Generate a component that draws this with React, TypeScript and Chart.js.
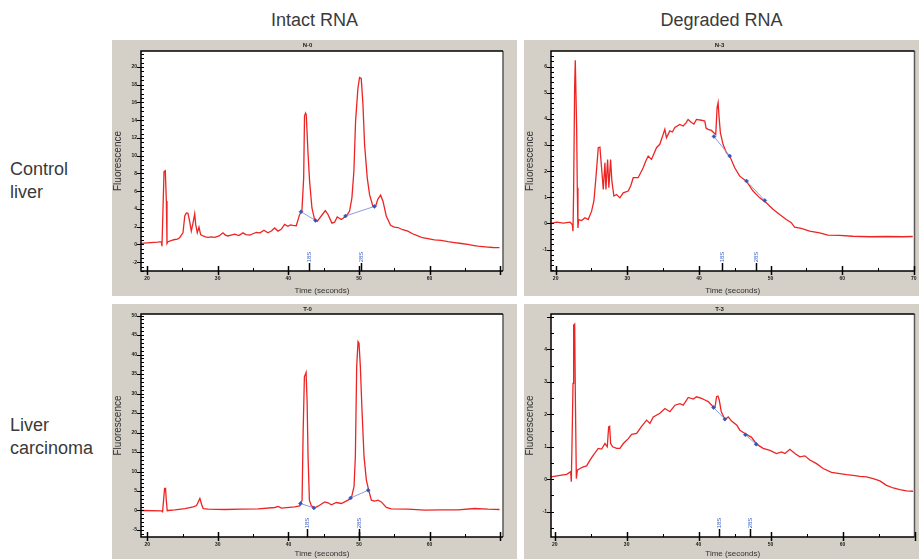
import React, { useEffect, useRef } from "react";
import { Chart, registerables } from "chart.js";

Chart.register(...registerables);

const FONT = "'Liberation Sans', Arial, Helvetica, sans-serif";
Chart.defaults.font.family = FONT;

// ---- text ----
const columnTitles = ["Intact RNA", "Degraded RNA"];
const rowTitleControl = ["Control", "liver"];
const rowTitleCarcinoma = ["Liver", "carcinoma"];
const panelTitles = ["N-0", "N-3", "T-0", "T-3"];
const markerNames = ["18S", "28S"];
const xAxisTitle = "Time (seconds)";
const yAxisTitle = "Fluorescence";

// ---- N-0 (control liver, intact) ----
const n0Time = [
  19.1, 20.5, 21.5, 22.03, 22.12, 22.26, 22.41, 22.59, 22.74, 22.83,
  22.97, 23.5, 23.92, 24.3, 24.62, 25.09, 25.35, 25.57, 25.8, 26.04,
  26.27, 26.51, 26.75, 26.89, 27.12, 27.36, 27.59, 27.92, 28.3, 28.63,
  29.1, 29.58, 30.2, 30.75, 31.1, 31.46, 31.9, 32.41, 33.0, 33.58,
  34.0, 34.53, 35.0, 35.47, 36.0, 36.56, 37.12, 37.6, 38.07, 38.54,
  39.0, 39.48, 39.95, 40.3, 40.66, 41.13, 41.6, 41.93, 42.18, 42.3,
  42.45, 42.55, 42.78, 43.02, 43.35, 43.73, 44.1, 44.67, 45.24, 45.61,
  46.18, 46.56, 46.93, 47.5, 48.21, 48.68, 49.01, 49.29, 49.53, 49.86,
  50.09, 50.33, 50.57, 50.8, 51.18, 51.51, 51.98, 52.36, 52.69, 53.07,
  53.4, 53.87, 54.48, 55.0, 55.52, 56.2, 56.93, 57.6, 58.35, 59.0,
  59.76, 60.7, 61.65, 62.6, 63.54, 64.5, 65.42, 66.1, 66.84, 67.5,
  68.25, 69.0, 69.9,
];
const n0Fluor = [
  0.1, 0.2, 0.25, 0.3, -0.2, 3.9, 8.2, 8.3, 4.9, 0.1,
  0.3, 0.45, 0.55, 0.6, 0.75, 1.3, 3.2, 3.55, 3.5, 2.6,
  1.5, 2.4, 3.45, 2.25, 1.3, 1.95, 1.1, 0.95, 0.85, 0.8,
  0.85, 0.8, 0.95, 1.3, 1.05, 0.95, 1.05, 1.15, 1.0, 1.3,
  1.1, 1.05, 1.2, 1.35, 1.3, 1.6, 1.3, 1.5, 1.85, 1.5,
  1.7, 2.25, 2.05, 2.2, 2.15, 2.1, 3.35, 3.75, 7.5, 14.5,
  14.8, 14.6, 10.5, 7.1, 4.1, 2.8, 2.6, 3.2, 3.8, 3.4,
  2.4, 2.5, 3.1, 2.8, 3.2, 3.75, 5.25, 8.25, 13.9, 17.6,
  18.8, 18.7, 15.8, 11.3, 7.5, 5.6, 4.3, 4.3, 5.1, 5.55,
  4.9, 3.2, 2.15, 1.95, 1.9, 1.65, 1.5, 1.2, 0.95, 0.75,
  0.65, 0.5, 0.45, 0.3, 0.2, 0.1, 0.0, -0.1, -0.2, -0.25,
  -0.3, -0.35, -0.37,
];
const n0BaseTime = [41.8, 43.85, 46.0, 48.1, 52.2];
const n0BaseFluor = [3.68, 2.7, null, 3.2, 4.28];
const n0Markers = [42.9, 50.3];
const n0YTicks = [-2, 0, 2, 4, 6, 8, 10, 12, 14, 16, 18, 20];
const n0XTicks = [20, 30, 40, 50, 60];

// ---- N-3 (control liver, degraded) ----
const n3Time = [
  19.35, 20.14, 21.07, 22.0, 22.32, 22.42, 22.51, 22.65, 22.74, 22.83,
  22.93, 23.02, 23.11, 23.21, 23.62, 24.09, 24.55, 25.02, 25.34, 25.62,
  25.95, 26.18, 26.41, 26.65, 26.88, 27.02, 27.25, 27.43, 27.67, 27.85,
  28.13, 28.5, 28.97, 29.43, 30.13, 30.5, 30.83, 31.52, 32.22, 32.6,
  32.92, 33.38, 34.08, 34.54, 35.01, 35.24, 35.47, 35.94, 36.3, 36.64,
  37.33, 37.8, 38.2, 38.49, 38.96, 39.3, 39.66, 40.35, 40.82, 41.0,
  41.28, 41.75, 42.07, 42.35, 42.54, 42.68, 42.82, 43.0, 43.37, 43.84,
  44.3, 45.0, 45.7, 46.63, 47.56, 48.49, 49.41, 50.34, 51.27, 52.2,
  52.9, 53.36, 54.29, 55.46, 56.85, 58.01, 59.64, 61.5, 63.82, 66.14,
  68.47, 69.86,
];
const n3Fluor = [
  0.0, 0.05, 0.01, 0.05, -0.04, -0.3, 1.24, 5.2, 6.25, 6.25,
  3.67, 1.37, -0.17, 0.15, 0.11, 0.22, 0.15, 0.47, 0.86, 1.75,
  2.9, 2.92, 2.13, 1.3, 2.32, 1.3, 2.45, 1.37, 2.45, 1.62,
  1.05, 1.11, 0.98, 1.17, 1.24, 1.45, 1.75, 1.75, 2.13, 2.4,
  2.58, 2.45, 2.9, 3.03, 3.41, 3.6, 3.28, 3.54, 3.5, 3.67,
  3.79, 3.73, 3.85, 3.98, 3.86, 3.8, 3.98, 3.95, 3.92, 3.65,
  3.6, 3.56, 3.47, 3.41, 4.43, 4.62, 4.05, 3.47, 3.03, 2.71,
  2.58, 2.13, 1.81, 1.62, 1.24, 0.98, 0.79, 0.54, 0.34, 0.15,
  0.03, -0.14, -0.19, -0.29, -0.36, -0.45, -0.46, -0.49, -0.51, -0.5,
  -0.51, -0.5,
];
const n3BaseTime = [42.1, 44.3, 45.5, 46.65, 49.2];
const n3BaseFluor = [3.33, 2.58, null, 1.62, 0.88];
const n3Markers = [43.2, 48.0];
const n3YTicks = [-1, 0, 1, 2, 3, 4, 5, 6];
const n3XTicks = [20, 30, 40, 50, 60, 70];

// ---- T-0 (liver carcinoma, intact) ----
const t0Time = [
  19.2, 22.03, 22.17, 22.31, 22.45, 22.59, 22.69, 22.83, 22.97, 23.92,
  25.33, 26.51, 26.98, 27.22, 27.45, 27.69, 27.92, 28.63, 30.99, 33.35,
  35.71, 38.07, 38.54, 39.01, 40.9, 41.6, 41.93, 42.08, 42.26, 42.5,
  42.64, 42.78, 42.97, 43.25, 43.73, 44.2, 45.14, 45.61, 46.08, 46.79,
  47.5, 48.44, 48.92, 49.29, 49.48, 49.67, 49.86, 50.0, 50.19, 50.42,
  50.71, 51.04, 51.37, 51.75, 52.22, 52.69, 53.16, 53.87, 54.58, 56.93,
  59.29, 61.65, 64.01, 66.37, 68.25, 69.9,
];
const t0Fluor = [
  0.0, -0.1, -0.3, 2.65, 5.65, 5.65, 2.65, -0.1, 0.0, 0.17,
  0.5, 0.94, 1.28, 2.2, 3.1, 1.6, 0.5, 0.34, 0.26, 0.34,
  0.43, 0.77, 1.03, 0.6, 0.94, 1.2, 2.65, 19.8, 34.3, 35.4,
  28.3, 13.8, 2.65, 1.2, 0.68, 1.1, 2.2, 1.97, 1.45, 2.05,
  1.8, 2.65, 3.25, 6.1, 13.8, 36.9, 43.3, 42.9, 36.9, 25.8,
  13.8, 7.8, 5.2, 2.65, 2.4, 2.65, 2.2, 0.77, 0.43, 0.34,
  0.09, 0.17, 0.17, 0.51, 0.34, 0.26,
];
const t0BaseTime = [41.7, 43.6, 46.0, 48.8, 51.3];
const t0BaseFluor = [1.8, 0.67, null, 3.2, 5.2];
const t0Markers = [42.7, 50.0];
const t0YTicks = [-5, 0, 5, 10, 15, 20, 25, 30, 35, 40, 45, 50];
const t0XTicks = [20, 30, 40, 50, 60];

// ---- T-3 (liver carcinoma, degraded) ----
const t3Time = [
  19.49, 20.74, 21.67, 22.22, 22.31, 22.41, 22.55, 22.64, 22.78, 22.87,
  23.01, 23.15, 23.52, 23.98, 24.44, 24.91, 25.37, 26.06, 26.53, 26.99,
  27.31, 27.5, 27.64, 27.78, 28.06, 28.61, 29.07, 29.54, 30.23, 30.69,
  31.39, 32.08, 32.78, 33.24, 33.7, 34.63, 35.32, 36.02, 36.71, 37.41,
  37.87, 38.56, 39.26, 39.72, 40.42, 40.88, 41.34, 41.94, 42.27, 42.5,
  42.69, 42.87, 43.15, 43.66, 44.12, 44.58, 45.28, 45.74, 46.44, 47.36,
  48.06, 48.98, 49.91, 50.83, 51.53, 51.99, 52.69, 53.38, 54.07, 54.77,
  55.46, 56.39, 57.31, 58.47, 59.63, 60.56, 61.48, 62.41, 63.33, 64.26,
  65.19, 66.11, 67.04, 67.96, 68.89, 69.81,
];
const t3Fluor = [
  0.07, 0.12, 0.15, 0.23, -0.08, 1.1, 2.95, 4.75, 4.78, 2.64,
  0.02, 0.28, 0.33, 0.38, 0.41, 0.59, 0.74, 0.95, 0.93, 1.1,
  1.0, 1.61, 1.63, 1.1, 1.0, 0.95, 0.95, 1.1, 1.25, 1.38,
  1.41, 1.63, 1.82, 1.72, 1.92, 2.03, 2.18, 2.08, 2.28, 2.33,
  2.28, 2.52, 2.47, 2.54, 2.49, 2.44, 2.39, 2.25, 2.21, 2.54,
  2.56, 2.44, 2.08, 1.84, 1.92, 1.79, 1.67, 1.51, 1.41, 1.29,
  1.08, 0.95, 0.89, 0.79, 0.84, 0.79, 0.92, 0.79, 0.69, 0.72,
  0.59, 0.48, 0.33, 0.21, 0.17, 0.14, 0.12, 0.09, 0.07, 0.02,
  -0.05, -0.19, -0.27, -0.32, -0.36, -0.37,
];
const t3BaseTime = [42.07, 43.65, 45.0, 46.5, 48.0];
const t3BaseFluor = [2.21, 1.85, null, 1.37, 1.08];
const t3Markers = [42.9, 47.2];
const t3YTicks = [-1, 0, 1, 2, 3, 4];
const t3XTicks = [20, 30, 40, 50, 60];

// ---- decoration plugin: white plot area, frame, tick marks, 18S/28S markers ----
const decorPlugin = {
  id: "decor",
  beforeDraw(chart: any) {
    const { ctx, chartArea: a } = chart;
    ctx.save();
    ctx.fillStyle = "#ffffff";
    ctx.fillRect(a.left, a.top, a.right - a.left, a.bottom - a.top);
    ctx.restore();
  },
  afterDraw(chart: any, _args: any, opts: any) {
    const { ctx, chartArea: a, scales } = chart;
    const xs = scales.x;
    const ys = scales.y;
    ctx.save();
    // frame
    ctx.lineWidth = 1.5;
    ctx.strokeStyle = "#5a5a5a";
    ctx.beginPath();
    ctx.moveTo(a.right, a.top);
    ctx.lineTo(a.right, a.bottom);
    ctx.stroke();
    ctx.strokeStyle = "#000";
    ctx.beginPath();
    ctx.moveTo(a.right, a.top);
    ctx.lineTo(a.left, a.top);
    ctx.lineTo(a.left, a.bottom);
    ctx.lineTo(a.right, a.bottom);
    ctx.stroke();
    // y ticks
    ctx.lineWidth = 1;
    for (let k = Math.ceil(ys.min / opts.yMinor); k * opts.yMinor <= ys.max; k++) {
      const v = k * opts.yMinor;
      const py = Math.round(ys.getPixelForValue(v)) + 0.5;
      const r = v / opts.yMajor;
      const major = Math.abs(r - Math.round(r)) < 1e-6;
      ctx.beginPath();
      ctx.moveTo(major ? a.left - 4 : a.left, py);
      ctx.lineTo(a.left + 3, py);
      ctx.stroke();
    }
    // x ticks
    for (let k = Math.ceil(xs.min / opts.xMinor); k * opts.xMinor <= xs.max; k++) {
      const v = k * opts.xMinor;
      const px = Math.round(xs.getPixelForValue(v)) + 0.5;
      const r = v / opts.xMajor;
      const major = Math.abs(r - Math.round(r)) < 1e-6;
      ctx.lineWidth = major ? 1.5 : 1;
      ctx.beginPath();
      ctx.moveTo(px, major ? a.bottom + 4 : a.bottom);
      ctx.lineTo(px, major ? a.bottom - 5 : a.bottom - 3);
      ctx.stroke();
    }
    // 18S / 28S markers
    ctx.font = `6px ${FONT}`;
    opts.markers.forEach((m: number, i: number) => {
      const px = Math.round(xs.getPixelForValue(m)) + 0.5;
      ctx.strokeStyle = "#000";
      ctx.lineWidth = 1.5;
      ctx.beginPath();
      ctx.moveTo(px, a.bottom);
      ctx.lineTo(px, a.bottom - 8);
      ctx.stroke();
      ctx.save();
      ctx.translate(px, a.bottom - 14);
      ctx.rotate(-Math.PI / 2);
      ctx.fillStyle = "#3a62c4";
      ctx.textAlign = "center";
      ctx.textBaseline = "middle";
      ctx.fillText(markerNames[i], 0, 0);
      ctx.restore();
    });
    ctx.restore();
  },
};

type Spec = {
  left: number; top: number; width: number; height: number;
  title: string;
  time: number[]; fluor: number[];
  baseTime: number[]; baseFluor: (number | null)[];
  markers: number[];
  xMin: number; xMax: number; yMin: number; yMax: number;
  xTicks: number[]; yTicks: number[];
  yMajor: number; yMinor: number;
  yWidth: number; xHeight: number; padRight: number;
  titlePadTop: number; titlePadBottom: number;
};

const panels: Spec[] = [
  {
    left: 112, top: 40, width: 405, height: 256, title: panelTitles[0],
    time: n0Time, fluor: n0Fluor, baseTime: n0BaseTime, baseFluor: n0BaseFluor, markers: n0Markers,
    xMin: 19.15, xMax: 70.4, yMin: -3.0, yMax: 21.8, xTicks: n0XTicks, yTicks: n0YTicks,
    yMajor: 2, yMinor: 0.5, yWidth: 29, xHeight: 25, padRight: 14, titlePadTop: 2, titlePadBottom: 1.8,
  },
  {
    left: 524, top: 40, width: 395, height: 256, title: panelTitles[1],
    time: n3Time, fluor: n3Fluor, baseTime: n3BaseTime, baseFluor: n3BaseFluor, markers: n3Markers,
    xMin: 19.35, xMax: 70.1, yMin: -1.82, yMax: 6.6, xTicks: n3XTicks, yTicks: n3YTicks,
    yMajor: 1, yMinor: 0.2, yWidth: 27, xHeight: 25, padRight: 4, titlePadTop: 2, titlePadBottom: 1.8,
  },
  {
    left: 112, top: 304, width: 405, height: 255, title: panelTitles[2],
    time: t0Time, fluor: t0Fluor, baseTime: t0BaseTime, baseFluor: t0BaseFluor, markers: t0Markers,
    xMin: 19.11, xMax: 70.4, yMin: -6.8, yMax: 50.4, xTicks: t0XTicks, yTicks: t0YTicks,
    yMajor: 5, yMinor: 1, yWidth: 29, xHeight: 22, padRight: 14, titlePadTop: 1.5, titlePadBottom: 1.3,
  },
  {
    left: 524, top: 304, width: 395, height: 255, title: panelTitles[3],
    time: t3Time, fluor: t3Fluor, baseTime: t3BaseTime, baseFluor: t3BaseFluor, markers: t3Markers,
    xMin: 19.49, xMax: 70.0, yMin: -1.78, yMax: 5.09, xTicks: t3XTicks, yTicks: t3YTicks,
    yMajor: 1, yMinor: 0.5, yWidth: 27, xHeight: 22, padRight: 4, titlePadTop: 1.5, titlePadBottom: 1.3,
  },
];

function Panel({ spec }: { spec: Spec }) {
  const ref = useRef<HTMLCanvasElement | null>(null);
  useEffect(() => {
    if (!ref.current) return;
    const chart = new Chart(ref.current, {
      type: "line",
      data: {
        datasets: [
          {
            data: spec.baseTime.map((t, i) => ({ x: t, y: spec.baseFluor[i] })),
            borderColor: "#8c9de4",
            borderWidth: 1,
            pointRadius: 2,
            pointStyle: "rectRot",
            pointBackgroundColor: "#2f57b8",
            pointBorderColor: "#2f57b8",
            pointBorderWidth: 0.5,
            spanGaps: false,
            tension: 0,
          },
          {
            data: spec.time.map((t, i) => ({ x: t, y: spec.fluor[i] })),
            borderColor: "#ee2424",
            borderWidth: 1.3,
            pointRadius: 0,
            tension: 0,
          },
        ],
      } as any,
      options: {
        animation: false,
        responsive: false,
        devicePixelRatio: 1,
        layout: { padding: { left: 0, right: spec.padRight, top: 0, bottom: 0 } },
        plugins: {
          legend: { display: false },
          tooltip: { enabled: false },
          title: {
            display: true,
            text: spec.title,
            font: { size: 6, family: FONT },
            color: "#222",
            padding: { top: spec.titlePadTop, bottom: spec.titlePadBottom },
          },
          decor: {
            yMajor: spec.yMajor,
            yMinor: spec.yMinor,
            xMajor: 10,
            xMinor: 5,
            markers: spec.markers,
          },
        } as any,
        scales: {
          x: {
            type: "linear",
            min: spec.xMin,
            max: spec.xMax,
            afterBuildTicks: (s: any) => {
              s.ticks = spec.xTicks.map((v) => ({ value: v }));
            },
            afterFit: (s: any) => {
              s.height = spec.xHeight;
            },
            grid: { display: false, drawTicks: true, tickLength: 4 },
            border: { display: false },
            ticks: {
              font: { size: 5, weight: "bold", family: FONT },
              color: "#222",
              padding: 1,
              autoSkip: false,
              maxRotation: 0,
              callback: (v: any) => String(v),
            },
            title: {
              display: true,
              text: xAxisTitle,
              font: { size: 8, family: FONT },
              color: "#333",
              padding: { top: 0, bottom: 0 },
            },
          },
          y: {
            type: "linear",
            min: spec.yMin,
            max: spec.yMax,
            afterBuildTicks: (s: any) => {
              s.ticks = spec.yTicks.map((v) => ({ value: v }));
            },
            afterFit: (s: any) => {
              s.width = spec.yWidth;
            },
            grid: { display: false, drawTicks: true, tickLength: 4 },
            border: { display: false },
            ticks: {
              font: { size: 5, weight: "bold", family: FONT },
              color: "#222",
              padding: 0,
              autoSkip: false,
              callback: (v: any) => String(v),
            },
            title: {
              display: true,
              text: yAxisTitle,
              font: { size: 10, family: FONT },
              color: "#333",
              padding: { top: 0, bottom: 0 },
            },
          },
        },
      } as any,
      plugins: [decorPlugin],
    });
    return () => chart.destroy();
  }, [spec]);

  return (
    <div
      style={{
        position: "absolute",
        left: spec.left,
        top: spec.top,
        width: spec.width,
        height: spec.height,
        background: "#d4d0c8",
      }}
    >
      <canvas ref={ref} width={spec.width} height={spec.height} style={{ display: "block" }} />
    </div>
  );
}

const labelStyle: React.CSSProperties = {
  position: "absolute",
  fontFamily: FONT,
  fontSize: 18,
  lineHeight: "23px",
  color: "#3a3a3a",
  whiteSpace: "nowrap",
};

export default function App() {
  return (
    <div
      style={{
        position: "absolute",
        left: 0,
        top: 0,
        width: 919,
        height: 559,
        background: "#fff",
        overflow: "hidden",
      }}
    >
      <div style={{ ...labelStyle, left: 112, width: 405, top: 9, textAlign: "center" }}>{columnTitles[0]}</div>
      <div style={{ ...labelStyle, left: 524, width: 395, top: 9, textAlign: "center" }}>{columnTitles[1]}</div>
      <div style={{ ...labelStyle, left: 10, top: 158 }}>
        {rowTitleControl[0]}
        <br />
        {rowTitleControl[1]}
      </div>
      <div style={{ ...labelStyle, left: 10, top: 414 }}>
        {rowTitleCarcinoma[0]}
        <br />
        {rowTitleCarcinoma[1]}
      </div>
      {panels.map((p, i) => (
        <Panel key={i} spec={p} />
      ))}
    </div>
  );
}
